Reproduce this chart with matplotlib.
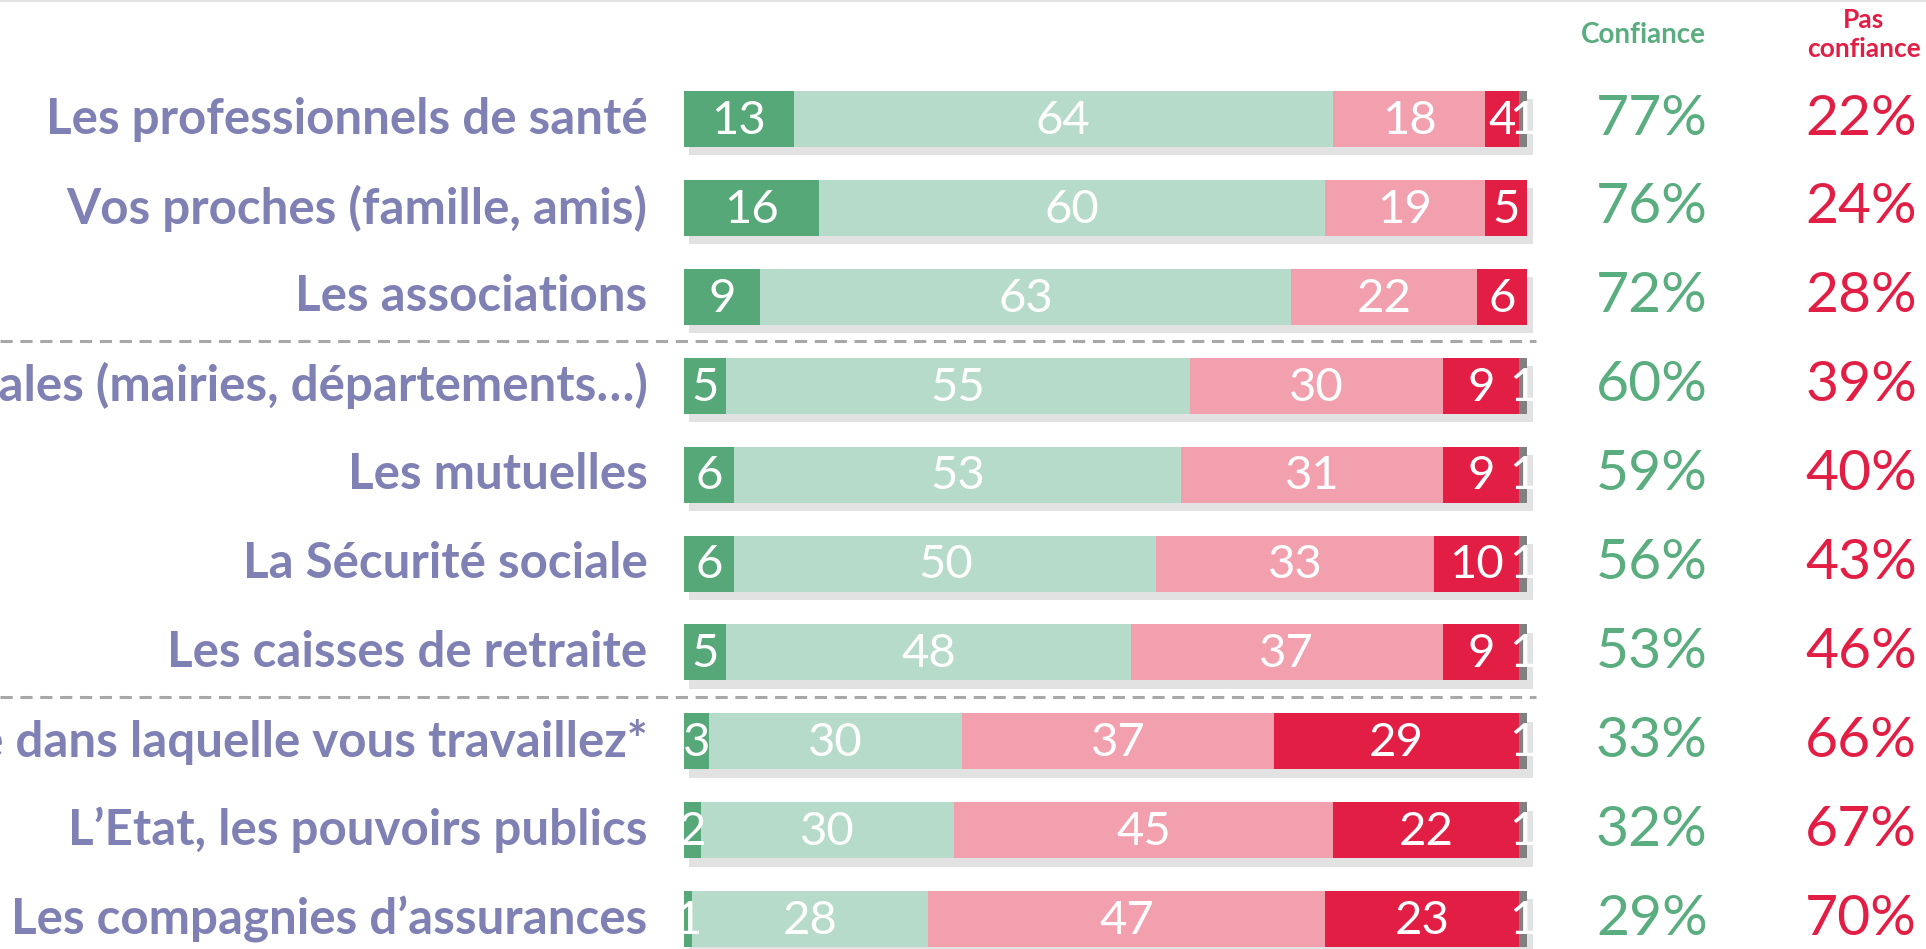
import matplotlib.pyplot as plt
import matplotlib.patheffects as pe

# Données
labels = [
    "Les professionnels de santé",
    "Vos proches (famille, amis)",
    "Les associations",
    "Les collectivités territoriales (mairies, départements…)",
    "Les mutuelles",
    "La Sécurité sociale",
    "Les caisses de retraite",
    "L’entreprise dans laquelle vous travaillez*",
    "L’Etat, les pouvoirs publics",
    "Les compagnies d’assurances",
]
tout_a_fait = [13, 16, 9, 5, 6, 6, 5, 3, 2, 1]
plutot = [64, 60, 63, 55, 53, 50, 48, 30, 30, 28]
plutot_pas = [18, 19, 22, 30, 31, 33, 37, 37, 45, 47]
pas_du_tout = [4, 5, 6, 9, 9, 10, 9, 29, 22, 23]
nsp = [1, 0, 0, 1, 1, 1, 1, 1, 1, 1]
confiance = [77, 76, 72, 60, 59, 56, 53, 33, 32, 29]
pas_confiance = [22, 24, 28, 39, 40, 43, 46, 66, 67, 70]

series = [tout_a_fait, plutot, plutot_pas, pas_du_tout, nsp]
colors = ['#57a878', '#b7dbca', '#f2a0ae', '#e31e45', '#808080']

col_label = '#7f80b3'
col_vert = '#5aad7e'
col_rouge = '#e31e45'

plt.rcParams['font.family'] = ['Lato', 'DejaVu Sans']

fig = plt.figure(figsize=(19.26, 9.49), dpi=100)
ax = fig.add_axes([0, 0, 1, 1])
ax.set_xlim(-81.1, 147.3)
ax.set_ylim(9.336, -1.339)

# ombre portée sous les barres
shadow = [pe.SimplePatchShadow(offset=(4, -6), shadow_rgbFace='#a0a0a0', alpha=0.3), pe.Normal()]

y = list(range(len(labels)))
left = [0] * len(labels)
for vals, c in zip(series, colors):
    bars = ax.barh(y, vals, left=left, height=0.63, color=c, path_effects=shadow, zorder=2)
    for i, bar in enumerate(bars):
        if vals[i] > 0:
            ax.text(bar.get_x() + bar.get_width() / 2, i + 0.02, str(vals[i]),
                    ha='center', va='center', color='white', fontsize=34, zorder=3)
    left = [l + v for l, v in zip(left, vals)]

# Libellés à gauche
for i, lab in enumerate(labels):
    ax.text(-4.3, i, lab, ha='right', va='center', color=col_label,
            fontsize=35.5, fontweight='bold')

# Colonnes de synthèse
for i in y:
    ax.text(114.8, i, f'{confiance[i]}%', ha='center', va='center',
            color=col_vert, fontsize=41)
    ax.text(139.6, i, f'{pas_confiance[i]}%', ha='center', va='center',
            color=col_rouge, fontsize=41)

ax.text(113.8, -0.95, 'Confiance', ha='center', va='center', color=col_vert,
        fontsize=20, fontweight='bold')
ax.text(139.9, -0.95, 'Pas\nconfiance', ha='center', va='center', color=col_rouge,
        fontsize=19, fontweight='bold', linespacing=1.25)

# Séparateurs
for s in [2.5, 6.5]:
    ax.plot([-81.1, 101.0], [s, s], color='#a8a8a8', linestyle=(0, (4, 2.5)), linewidth=2.2, zorder=1)

for side in ['bottom', 'left', 'right']:
    ax.spines[side].set_visible(False)
ax.spines['top'].set_color('#e3e3e3')
ax.spines['top'].set_linewidth(3)
ax.set_xticks([])
ax.set_yticks([])

plt.savefig('out.png')
plt.close()
